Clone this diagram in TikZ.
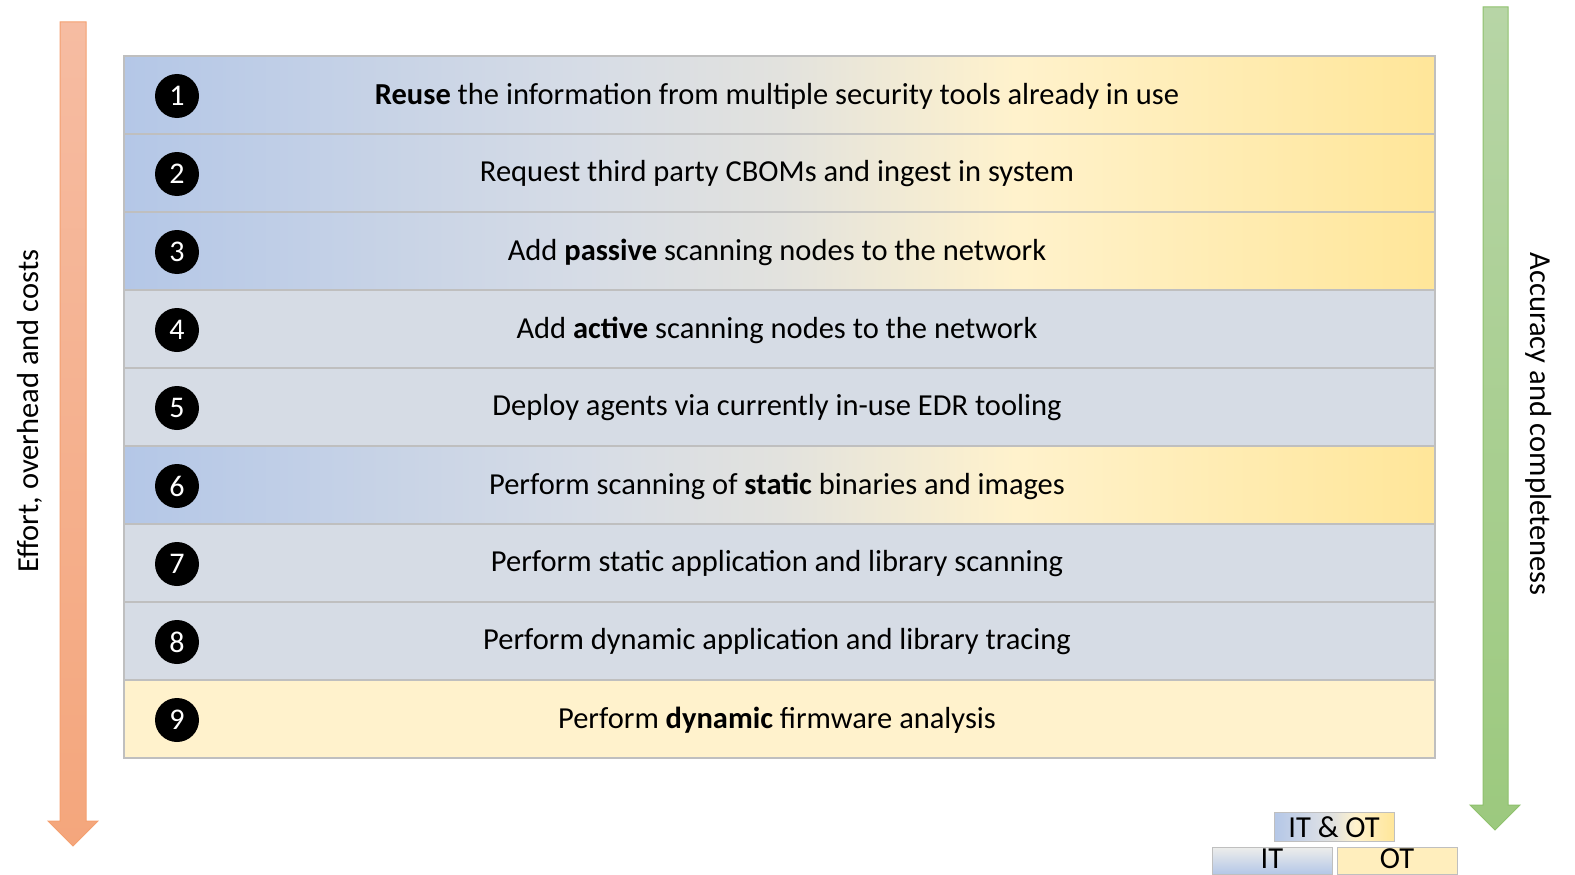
\documentclass[tikz,border=0pt]{standalone}
\usepackage{fontspec}
\setmainfont{Carlito}
\definecolor{cblue}{HTML}{B4C7E7}
\definecolor{cmidA}{HTML}{D6DCE6}
\definecolor{cmidB}{HTML}{E2E2DE}
\definecolor{cyel}{HTML}{FFE699}
\definecolor{cgray}{HTML}{D6DCE5}
\definecolor{cpale}{HTML}{FFF2CC}
\definecolor{cborder}{HTML}{BFBFBF}
\definecolor{orgtop}{HTML}{F6BCA2}
\definecolor{orgbot}{HTML}{F4A67C}
\definecolor{orgline}{HTML}{F4A070}
\definecolor{grntop}{HTML}{B7D5A6}
\definecolor{grnbot}{HTML}{9CC97E}
\definecolor{grnline}{HTML}{8FC16D}
\pgfdeclarehorizontalshading{rowgrad}{100bp}{color(0bp)=(cblue); color(25bp)=(cblue); color(42.5bp)=(cmidA); color(50bp)=(cmidB); color(59bp)=(cpale); color(75bp)=(cyel); color(100bp)=(cyel)}
\def\kindg{g}
\def\kinds{s}
\tikzset{
  rowtext/.style={font=\fontsize{30.5}{34}\selectfont, text=black, anchor=center},
  numcirc/.style={circle, fill=black, minimum size=44pt, inner sep=0pt, text=white, font=\fontsize{30}{34}\selectfont},
  sidelabel/.style={font=\fontsize{30.5}{34}\selectfont, text=black},
  legtext/.style={font=\fontsize{30.5}{34}\selectfont, text=black, anchor=center, inner sep=0pt},
  rowline/.style={draw=cborder, line width=1.3pt},
}
\begin{document}
\begin{tikzpicture}[x=1pt,y=-1pt]
\useasboundingbox (0,0) rectangle (1575,875);
% left arrow
\shadedraw[top color=orgtop, bottom color=orgbot, draw=orgline, line width=1pt]
  (60,22) -- (86,22) -- (86,821) -- (98,821) -- (73,846) -- (48,821) -- (60,821) -- cycle;
% right arrow
\shadedraw[top color=grntop, bottom color=grnbot, draw=grnline, line width=1pt]
  (1483,7) -- (1508,7) -- (1508,805) -- (1520,805) -- (1495,830) -- (1470,805) -- (1483,805) -- cycle;
% side labels
\node[sidelabel, rotate=90] (leftlab) at (30,411) {Effort, overhead and costs};
\node[sidelabel, rotate=-90] (rightlab) at (1539,424) {Accuracy and completeness};
% rows
\foreach \i/\kind in {1/g,2/g,3/g,4/s,5/s,6/g,7/s,8/s,9/y}{
  \pgfmathsetmacro{\ytop}{56+78*(\i-1)}
  \pgfmathsetmacro{\ybot}{56+78*\i}
  \ifx\kind\kindg
    \shade[shading=rowgrad] (124,\ytop) rectangle (1435,\ybot);
  \else\ifx\kind\kinds
    \fill[cgray] (124,\ytop) rectangle (1435,\ybot);
  \else
    \fill[cpale] (124,\ytop) rectangle (1435,\ybot);
  \fi\fi
  \draw[rowline] (124,\ytop) rectangle (1435,\ybot);
  \node[numcirc] (c\i) at (177,{56+78*(\i-0.5)+1}) {\i};
}
\node[rowtext] (r1) at (777,96) {\textbf{Reuse} the information from multiple security tools already in use};
\node[rowtext] (r2) at (777,174) {Request third party CBOMs and ingest in system};
\node[rowtext] (r3) at (777,252) {Add \textbf{passive} scanning nodes to the network};
\node[rowtext] (r4) at (777,330) {Add \textbf{active} scanning nodes to the network};
\node[rowtext] (r5) at (777,408) {Deploy agents via currently in-use EDR tooling};
\node[rowtext] (r6) at (777,486) {Perform scanning of \textbf{static} binaries and images};
\node[rowtext] (r7) at (777,564) {Perform static application and library scanning};
\node[rowtext] (r8) at (777,642) {Perform dynamic application and library tracing};
\node[rowtext] (r9) at (777,720) {Perform \textbf{dynamic} firmware analysis};
% legend
\shade[shading=rowgrad] (1274,812) rectangle (1394,841);
\draw[cborder, line width=1pt] (1274,812) rectangle (1394,841);
\node[legtext] (lboth) at (1334,827) {IT \& OT};
\shade[top color=cmidB!60!white, bottom color=cblue] (1212,847) rectangle (1332,874);
\draw[cborder, line width=1pt] (1212,847) rectangle (1332,874);
\node[legtext] (lit) at (1272,859) {IT};
\fill[cpale!70!cyel] (1337,847) rectangle (1457,874);
\draw[cborder, line width=1pt] (1337,847) rectangle (1457,874);
\node[legtext] (lot) at (1397,859) {OT};
\end{tikzpicture}
\end{document}
